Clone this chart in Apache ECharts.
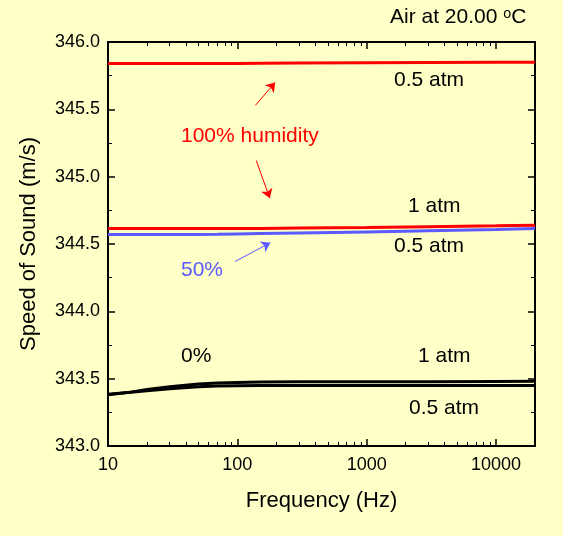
<!DOCTYPE html><html><head><meta charset="utf-8"><script src="https://cdn.jsdelivr.net/npm/echarts@6/dist/echarts.min.js"></script></head><body style="margin:0;background:#ffffc8"><div id="c" style="width:563px;height:536px"></div><script>
const freq=[10,15,20,30,50,70,100,150,300,1000,3000,10000,20000];
const black1=[343.38,343.40,343.42,343.44,343.46,343.468,343.472,343.476,343.478,343.478,343.478,343.479,343.48];
const black05=[343.385,343.40,343.41,343.425,343.44,343.445,343.448,343.45,343.45,343.45,343.45,343.45,343.45];
const red1=[344.615,344.615,344.615,344.615,344.615,344.615,344.615,344.616,344.618,344.622,344.628,344.635,344.64];
const red05=[345.84,345.84,345.84,345.84,345.84,345.84,345.84,345.842,345.844,345.846,345.848,345.85,345.85];
const blue05=[344.57,344.57,344.57,344.57,344.57,344.572,344.575,344.578,344.582,344.59,344.598,344.608,344.615];
const f='Liberation Sans, Arial, sans-serif';
const mk=a=>freq.map((x,i)=>[x,a[i]]);
const ln=(a,c)=>({type:'line',data:mk(a),showSymbol:false,lineStyle:{color:c,width:3}});
const ax={axisLine:{lineStyle:{color:'#000',width:2}},axisTick:{inside:true,length:7,lineStyle:{color:'#000',width:1.5}},splitLine:{show:false}};
const arr=(a,b,c)=>[{coord:a,lineStyle:{color:c,width:1,type:'solid'},symbol:'none'},{coord:b,symbol:'arrow'}];
const ch=echarts.init(document.getElementById('c'));
ch.setOption({backgroundColor:'#ffffc8',animation:false,
grid:{left:108,right:28,top:42,bottom:90},
xAxis:[{type:'log',min:10,max:20000,logBase:10,...ax,minorTick:{show:true,splitNumber:9,length:4,lineStyle:{color:'#000'}},axisLabel:{color:'#000',fontSize:18,fontFamily:f,margin:10,formatter:v=>v>10000?'':String(v)},name:'Frequency (Hz)',nameLocation:'middle',nameGap:44,nameTextStyle:{fontSize:22,fontFamily:f,color:'#000'}},
{type:'log',position:'top',min:10,max:20000,...ax,minorTick:{show:true,splitNumber:9,length:4,lineStyle:{color:'#000'}},axisLabel:{show:false}}],
yAxis:[{type:'value',min:343,max:346,interval:0.5,...ax,minorTick:{show:true,splitNumber:2,length:4,lineStyle:{color:'#000'}},axisLabel:{color:'#000',fontSize:18,fontFamily:f,formatter:v=>v.toFixed(1)},name:'Speed of Sound (m/s)',nameLocation:'middle',nameGap:68,nameTextStyle:{fontSize:22,fontFamily:f,color:'#000'}},
{type:'value',position:'right',min:343,max:346,interval:0.5,...ax,minorTick:{show:true,splitNumber:2,length:4,lineStyle:{color:'#000'}},axisLabel:{show:false}}],
series:[ln(black1,'#000'),ln(black05,'#000'),ln(red1,'#ff0000'),ln(red05,'#ff0000'),
{...ln(blue05,'#5a5aff'),markLine:{silent:true,symbolSize:9,label:{show:false},animation:false,data:[
arr([138,345.53],[196,345.70],'#ff0000'),arr([140,345.12],[178,344.84],'#ff0000'),arr([96,344.37],[180,344.51],'#5a5aff')]}}],
graphic:[
{type:'text',left:390,top:7,style:{text:'Air at 20.00 ᵒC',font:'21px '+f,fill:'#000'}},
{type:'text',left:394,top:70,style:{text:'0.5 atm',font:'21px '+f,fill:'#000'}},
{type:'text',left:181,top:126,style:{text:'100% humidity',font:'21px '+f,fill:'#ff0000'}},
{type:'text',left:408,top:196,style:{text:'1 atm',font:'21px '+f,fill:'#000'}},
{type:'text',left:394,top:236,style:{text:'0.5 atm',font:'21px '+f,fill:'#000'}},
{type:'text',left:181,top:260,style:{text:'50%',font:'21px '+f,fill:'#5a5aff'}},
{type:'text',left:181,top:346,style:{text:'0%',font:'21px '+f,fill:'#000'}},
{type:'text',left:418,top:346,style:{text:'1 atm',font:'21px '+f,fill:'#000'}},
{type:'text',left:409,top:398,style:{text:'0.5 atm',font:'21px '+f,fill:'#000'}}]
});
</script></body></html>
